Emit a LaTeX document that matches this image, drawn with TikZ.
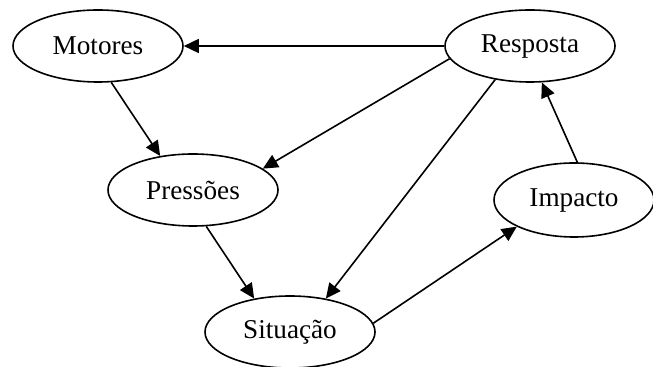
\documentclass[tikz,border=0pt]{standalone}
\usepackage{fontspec}
\setmainfont{Liberation Serif}
\usetikzlibrary{positioning,shapes.geometric,arrows.meta}

\begin{document}
\begin{tikzpicture}
 	[x=0.5pt, y=-0.5pt, concept/.style={ellipse,inner sep=0pt,minimum width=85pt,minimum height=36pt,draw=black,line width=0.8pt,font=\fontsize{13.6}{15}\selectfont},
 	link/.style={line width=0.8pt,-{Triangle[length=7.5pt,width=7pt]}}]
 \useasboundingbox (0,0) rectangle (653,367);
 \node (mot) [concept] at (98,46) {Motores};
 \node (res) [concept] at (530,46) {Resposta};
 \node (pre) [concept] at (193,190) {Pressões};
 \node (sit) [concept] at (290,332) {Situação};
 \node (imp) [concept, minimum width=80pt, minimum height=37pt] at (574,200) {Impacto};
 \foreach \from/\to in {res.180/mot.0, mot.-70/pre.134, res.189/pre.17, res.224/sit.43, pre.-70/sit.137, sit.6/imp.205, imp.85/res.-72}
 \draw[link] (\from) -- (\to);
\end{tikzpicture}
\end{document}
